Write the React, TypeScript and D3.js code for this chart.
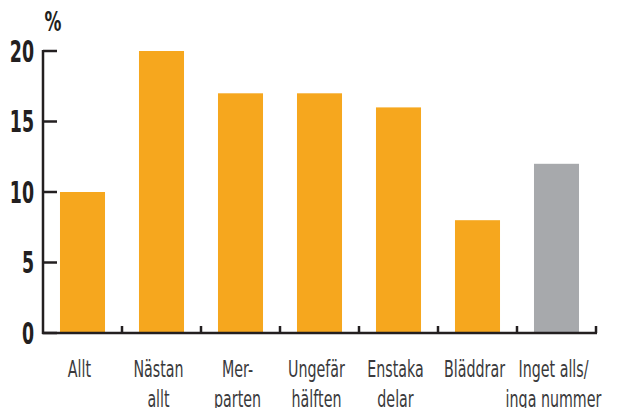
import { useEffect, useRef } from "react";
import * as d3 from "d3";

const categories = ["Allt", "Nästan allt", "Mer- parten", "Ungefär hälften", "Enstaka delar", "Bläddrar", "Inget alls/ inga nummer"];
const labelLines = [["Allt"], ["Nästan", "allt"], ["Mer-", "parten"], ["Ungefär", "hälften"], ["Enstaka", "delar"], ["Bläddrar"], ["Inget alls/", "inga nummer"]];
const values = [10, 20, 17, 17, 16, 8, 12];
const highlight = [false, false, false, false, false, false, true];
const yTicks = [0, 5, 10, 15, 20];

export default function App() {
    const svgRef = useRef<SVGSVGElement>(null);

    useEffect(() => {
        const width = 617;
        const height = 408;
        const margin = { top: 51, right: 21, bottom: 75, left: 43 };
        const ink = "#231f20";
        const font = "'DejaVu Sans', sans-serif";

        const svg = d3.select(svgRef.current)
            .attr("width", width)
            .attr("height", height)
            .style("display", "block")
            .style("position", "absolute")
            .style("left", "0px")
            .style("top", "0px")
            .style("background", "#ffffff");

        svg.selectAll("*").remove();

        const x = d3.scaleBand()
            .domain(categories)
            .range([margin.left, width - margin.right])
            .paddingInner(0.43)
            .paddingOuter(0.215);

        const y = d3.scaleLinear()
            .domain([0, 20])
            .range([height - margin.bottom, margin.top]);

        // bars
        svg.append("g")
            .selectAll("rect")
            .data(values)
            .join("rect")
            .attr("x", (d, i) => x(categories[i])!)
            .attr("y", d => y(d))
            .attr("width", x.bandwidth())
            .attr("height", d => y(0) - y(d))
            .attr("fill", (d, i) => highlight[i] ? "#a7a9ac" : "#f6a71e");

        // y axis
        const yAxis = svg.append("g").attr("stroke", ink).attr("stroke-width", 2.5);
        yAxis.append("line")
            .attr("x1", margin.left).attr("x2", margin.left)
            .attr("y1", y(20) - 1).attr("y2", y(0) + 1);
        yAxis.selectAll("line.tick")
            .data(yTicks)
            .join("line")
            .attr("class", "tick")
            .attr("x1", margin.left).attr("x2", margin.left + 14)
            .attr("y1", d => y(d)).attr("y2", d => y(d));

        svg.append("g")
            .selectAll("text")
            .data(yTicks)
            .join("text")
            .attr("transform", d => `translate(${margin.left - 9},${y(d)}) scale(0.58,1)`)
            .attr("dy", "0.36em")
            .attr("text-anchor", "end")
            .attr("font-family", font)
            .attr("font-weight", "bold")
            .attr("font-size", 30)
            .attr("fill", ink)
            .text(d => d);

        svg.append("text")
            .attr("transform", "translate(53,31) scale(0.65,1)")
            .attr("text-anchor", "middle")
            .attr("font-family", font)
            .attr("font-weight", "bold")
            .attr("font-size", 26)
            .attr("fill", ink)
            .text("%");

        // x axis
        const xAxis = svg.append("g").attr("stroke", ink).attr("stroke-width", 2.5);
        xAxis.append("line")
            .attr("x1", margin.left - 1).attr("x2", width - margin.right + 1)
            .attr("y1", y(0)).attr("y2", y(0));
        xAxis.selectAll("line.tick")
            .data(categories)
            .join("line")
            .attr("class", "tick")
            .attr("x1", d => x(d)! + x.step() * (1 - x.paddingInner() / 2))
            .attr("x2", d => x(d)! + x.step() * (1 - x.paddingInner() / 2))
            .attr("y1", y(0))
            .attr("y2", y(0) - 7);

        // category labels
        const lab = svg.append("g")
            .selectAll("text")
            .data(categories)
            .join("text")
            .attr("text-anchor", "middle")
            .attr("font-family", font)
            .attr("font-size", 23)
            .attr("fill", "#3a3a3c")
            .attr("transform", d => `translate(${x(d)! + x.bandwidth() / 2 - 3},${y(0) + 44}) scale(0.62,1)`);
        lab.selectAll("tspan")
            .data((d, i) => labelLines[i])
            .join("tspan")
            .attr("x", 0)
            .attr("dy", (d, i) => i === 0 ? 0 : 30)
            .text(d => d);
    }, []);

    return <svg ref={svgRef}></svg>;
}
